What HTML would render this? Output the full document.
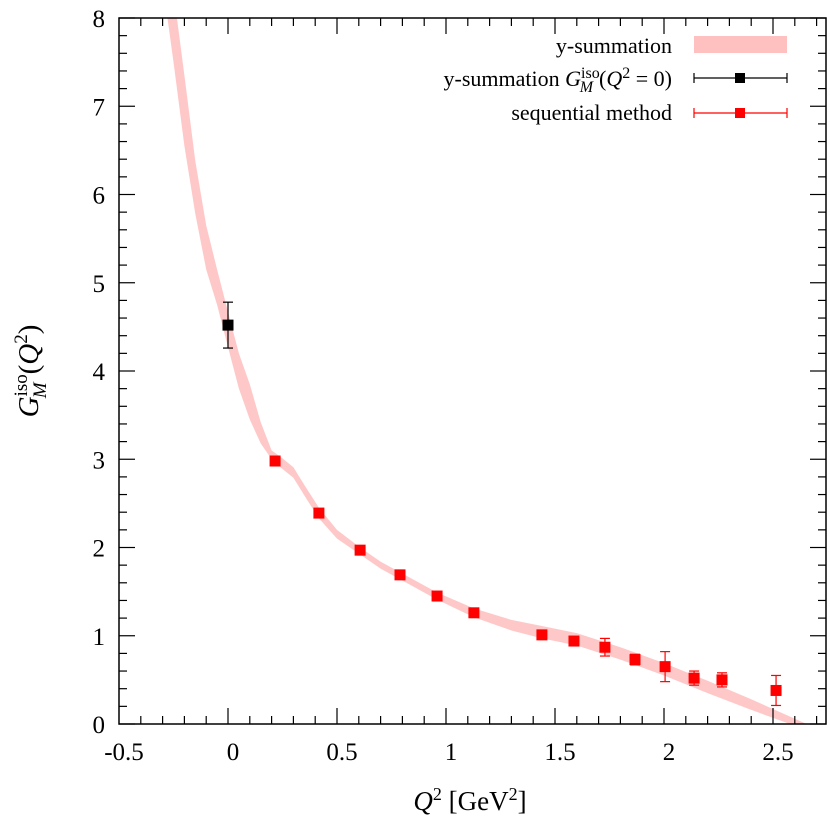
<!DOCTYPE html>
<html><head><meta charset="utf-8"><style>
html,body{margin:0;padding:0;background:#fff;}
svg{display:block;font-family:"Liberation Serif",serif;}
</style></head><body>
<svg id="chart" width="830" height="827" viewBox="0 0 830 827" xmlns="http://www.w3.org/2000/svg"></svg>
<script>
const bandQ   = [-0.33,-0.3,-0.25,-0.2,-0.15,-0.1,-0.05,0,0.05,0.1,0.15,0.2,0.25,0.3,0.35,0.417,0.5,0.606,0.7,0.789,0.959,1.128,1.3,1.44,1.6,1.8,2.0,2.2,2.4,2.6,2.7];
const bandMid = [9.4,8.8,7.9,6.95,6.08,5.4,4.95,4.47,4.0,3.65,3.3,3.05,2.95,2.85,2.65,2.39,2.15,1.96,1.8,1.68,1.45,1.26,1.12,1.04,0.96,0.8,0.62,0.42,0.22,0.02,-0.08];
const bandHalf= [0.4,0.4,0.4,0.4,0.3,0.25,0.2,0.2,0.2,0.2,0.12,0.05,0.06,0.06,0.06,0.06,0.05,0.04,0.04,0.04,0.04,0.05,0.06,0.07,0.07,0.07,0.07,0.07,0.06,0.04,0.03];
const seqQ   = [0.216,0.417,0.606,0.789,0.959,1.128,1.44,1.587,1.729,1.867,2.005,2.138,2.266,2.514];
const seqG   = [2.98,2.39,1.97,1.69,1.45,1.26,1.01,0.94,0.87,0.73,0.65,0.52,0.50,0.38];
const seqErr = [0.03,0.03,0.03,0.03,0.03,0.03,0.04,0.05,0.10,0.06,0.17,0.08,0.08,0.17];
const zeroQ = [0], zeroG = [4.52], zeroErr = [0.26];
const xTicks = [-0.5,0,0.5,1,1.5,2,2.5];
const xTickLabels = ["-0.5","0","0.5","1","1.5","2","2.5"];
const yTicks = [0,1,2,3,4,5,6,7,8];

const L=119,R=826,T=18,B=724;
const X=q=>228+q*218;
const Y=v=>B-v*(B-T)/8;
const svg=document.getElementById('chart');
const NS='http://www.w3.org/2000/svg';
function mk(tag,attrs,parent){const e=document.createElementNS(NS,tag);for(const k in attrs)e.setAttribute(k,attrs[k]);(parent||svg).appendChild(e);return e;}

const defs=mk('defs',{});
const cp=mk('clipPath',{id:'clip'},defs);
mk('rect',{x:L,y:T,width:R-L,height:B-T},cp);

let d='M'+bandQ.map((q,i)=>X(q)+','+Y(bandMid[i]+bandHalf[i])).join('L');
for(let i=bandQ.length-1;i>=0;i--) d+='L'+X(bandQ[i])+','+Y(bandMid[i]-bandHalf[i]);
d+='Z';
const band=mk('path',{d:d,fill:'#ffc8c8','clip-path':'url(#clip)'});



const frame=mk('rect',{x:L,y:T,width:R-L,height:B-T,fill:'none',stroke:'#000','stroke-width':1.5});



for(let k=-5;k<=27;k++){const q=k/10,px=X(q);if(px<L+1||px>R-1)continue;const major=k%5===0;const len=major?16:8;
 mk('line',{x1:px,y1:B,x2:px,y2:B-len,stroke:'#000','stroke-width':1.2});
 mk('line',{x1:px,y1:T,x2:px,y2:T+len,stroke:'#000','stroke-width':1.2});}
xTicks.forEach((q,i)=>{const t=mk('text',{x:X(q)+5,y:B+36,'text-anchor':'middle','font-size':25});t.textContent=xTickLabels[i];
 
 });
for(let k=0;k<=40;k++){const v=k/5,py=Y(v);const major=k%5===0;const len=major?16:8;
 mk('line',{x1:L,y1:py,x2:L+len,y2:py,stroke:'#000','stroke-width':1.2});
 mk('line',{x1:R,y1:py,x2:R-len,y2:py,stroke:'#000','stroke-width':1.2});}
yTicks.forEach(v=>{const t=mk('text',{x:L-14,y:Y(v)+9,'text-anchor':'end','font-size':25});t.textContent=String(v);
 
 });

const xt=mk('text',{x:470,y:810,'text-anchor':'middle','font-size':27});
xt.innerHTML='<tspan font-style="italic">Q</tspan><tspan dy="-10" font-size="18">2</tspan><tspan dy="10"> [GeV</tspan><tspan dy="-10" font-size="18">2</tspan><tspan dy="10">]</tspan>';


const yt=mk('text',{x:0,y:0,'text-anchor':'middle','font-size':29,transform:'translate(38,371) rotate(-90)'});
yt.innerHTML='<tspan font-style="italic">G</tspan><tspan dy="-11" font-size="19">iso</tspan><tspan dx="-24" dy="19" font-size="19" font-style="italic">M</tspan><tspan dx="8" dy="-8">(</tspan><tspan font-style="italic">Q</tspan><tspan dy="-11" font-size="19">2</tspan><tspan dy="11">)</tspan>';



function errPoint(q,g,e,color,name){
 const grp=mk('g',{'clip-path':'url(#clip)'});
 
 
 const px=X(q);
 mk('line',{x1:px,y1:Y(g+e),x2:px,y2:Y(g-e),stroke:color,'stroke-width':1.2},grp);
 mk('line',{x1:px-5,y1:Y(g+e),x2:px+5,y2:Y(g+e),stroke:color,'stroke-width':1.2},grp);
 mk('line',{x1:px-5,y1:Y(g-e),x2:px+5,y2:Y(g-e),stroke:color,'stroke-width':1.2},grp);
 mk('rect',{x:px-5.5,y:Y(g)-5.5,width:11,height:11,fill:color},grp);
}
seqQ.forEach((q,i)=>errPoint(q,seqG[i],seqErr[i],'#ff0000','sequential-point'));
zeroQ.forEach((q,i)=>errPoint(q,zeroG[i],zeroErr[i],'#000000','y-summation-q0-point'));

const lg=mk('g',{});


const t1=mk('text',{x:672,y:53,'text-anchor':'end','font-size':22},lg);t1.textContent='y-summation';
mk('rect',{x:694,y:36,width:93,height:17,fill:'#ffc0c0'},lg);
const t2=mk('text',{x:672,y:86,'text-anchor':'end','font-size':22},lg);
t2.innerHTML='y-summation <tspan font-style="italic">G</tspan><tspan dy="-8" font-size="16">iso</tspan><tspan dx="-20" dy="14" font-size="16" font-style="italic">M</tspan><tspan dx="6" dy="-6">(</tspan><tspan font-style="italic">Q</tspan><tspan dy="-8" font-size="16">2</tspan><tspan dy="8"> = 0)</tspan>';
mk('line',{x1:694,y1:78,x2:787,y2:78,stroke:'#000','stroke-width':1.2},lg);
mk('line',{x1:694,y1:73,x2:694,y2:83,stroke:'#000','stroke-width':1.2},lg);
mk('line',{x1:787,y1:73,x2:787,y2:83,stroke:'#000','stroke-width':1.2},lg);
mk('rect',{x:735,y:73,width:10,height:10,fill:'#000'},lg);
const t3=mk('text',{x:672,y:120,'text-anchor':'end','font-size':22},lg);t3.textContent='sequential method';
mk('line',{x1:694,y1:113,x2:787,y2:113,stroke:'#f00','stroke-width':1.2},lg);
mk('line',{x1:694,y1:108,x2:694,y2:118,stroke:'#f00','stroke-width':1.2},lg);
mk('line',{x1:787,y1:108,x2:787,y2:118,stroke:'#f00','stroke-width':1.2},lg);
mk('rect',{x:735,y:108,width:10,height:10,fill:'#f00'},lg);
</script>
</body></html>
